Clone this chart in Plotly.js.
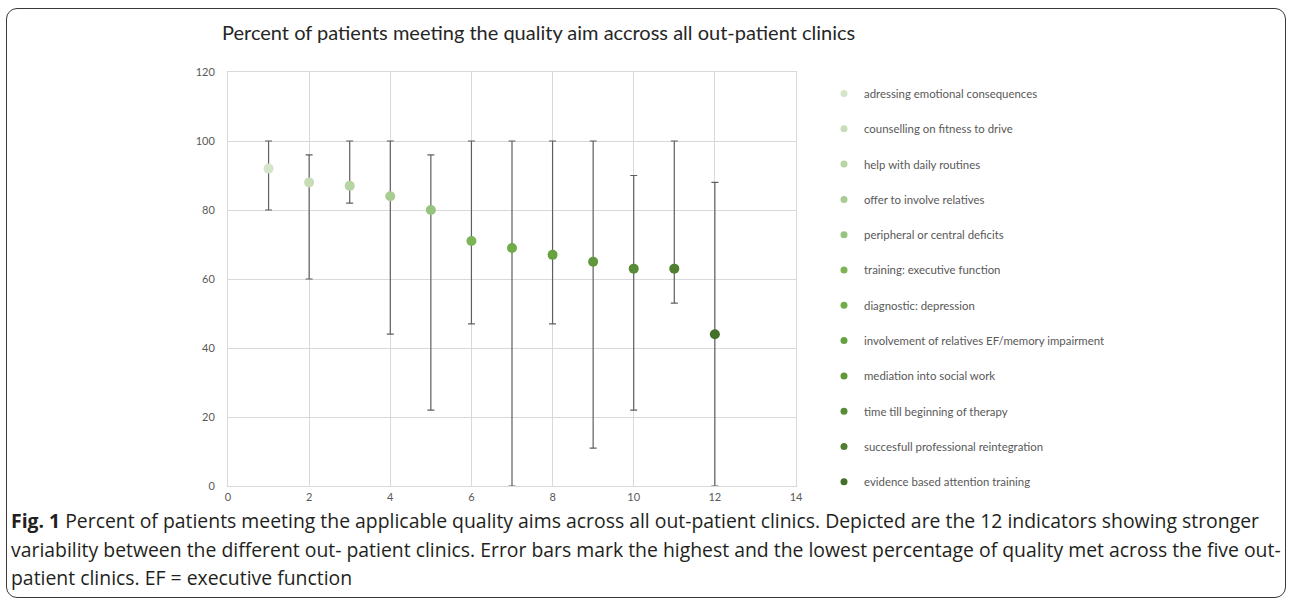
<!DOCTYPE html>
<html>
<head>
<meta charset="utf-8">
<script src="https://cdn.plot.ly/plotly-3.0.1.min.js"></script>
<style>
  html, body { margin: 0; padding: 0; background: #fff; }
  #wrap { position: relative; width: 1292px; height: 605px; }
  #chart { width: 1292px; height: 605px; }
  #frame { position: absolute; left: 6px; top: 8px; width: 1278px; height: 588px;
           border: 1.3px solid #3a3a3a; border-radius: 11px; pointer-events: none; }
</style>
</head>
<body>
<div id="wrap">
  <div id="chart"></div>
  <div id="frame"></div>
</div>
<script>
const indicators = [
  "adressing emotional consequences",
  "counselling on fitness to drive",
  "help with daily routines",
  "offer to involve relatives",
  "peripheral or central deficits",
  "training: executive function",
  "diagnostic: depression",
  "involvement of relatives EF/memory impairment",
  "mediation into social work",
  "time till beginning of therapy",
  "succesfull professional reintegration",
  "evidence based attention training"
];
const xPos = [1, 2, 3, 4, 5, 6, 7, 8, 9, 10, 11, 12];
const meanValues = [92, 88, 87, 84, 80, 71, 69, 67, 65, 63, 63, 44];
const highValues = [100, 96, 100, 100, 96, 100, 100, 100, 100, 90, 100, 88];
const lowValues  = [80, 60, 82, 44, 22, 47, 0, 47, 11, 22, 53, 0];
const colors = ["#d4e5c9", "#c6ddb8", "#b7d4a5", "#a8cc92", "#97c37f", "#7bb356",
                "#70ac47", "#67a240", "#5f973a", "#578b35", "#4f7f30", "#43702a"];

const titleText = "Percent of patients meeting the quality aim accross all out-patient clinics";
const captionLines = [
  "<b>Fig. 1</b> Percent of patients meeting the applicable quality aims across all out-patient clinics. Depicted are the 12 indicators showing stronger",
  "variability between the different out- patient clinics. Error bars mark the highest and the lowest percentage of quality met across the five out-",
  "patient clinics. EF = executive function"
];

const traces = [];
indicators.forEach((name, i) => {
  traces.push({
    type: "scatter", mode: "markers", name: name,
    x: [xPos[i]], y: [meanValues[i]],
    marker: { color: colors[i], size: 10 },
    error_y: { type: "data", symmetric: false,
               array: [highValues[i] - meanValues[i]],
               arrayminus: [meanValues[i] - lowValues[i]],
               color: "#5f5f5f", thickness: 1.2, width: 3.5 },
    showlegend: false, hoverinfo: "skip"
  });
});
indicators.forEach((name, i) => {
  traces.push({
    type: "scatter", mode: "markers", name: name,
    x: [null], y: [null],
    marker: { color: colors[i], size: 7 },
    legendgroup: "g" + i, showlegend: true
  });
});

const captionY = [520, 549, 577];
const annotations = captionLines.map((t, i) => ({
  text: t, xref: "paper", yref: "paper",
  x: -218 / 568, xanchor: "left", y: (486 - captionY[i]) / 414, yanchor: "middle",
  showarrow: false, align: "left", borderpad: 0,
  font: { family: "'Open Sans', Lato, sans-serif", size: 19.4, color: "#231f20" }
}));

const layout = {
  width: 1292, height: 605,
  margin: { l: 228, r: 496, t: 72, b: 119 },
  paper_bgcolor: "#fff", plot_bgcolor: "#fff",
  font: { family: "Lato, 'Open Sans', sans-serif", color: "#595959", size: 11 },
  title: { text: titleText, x: 222 / 1292, xanchor: "left", y: 1 - 33 / 605, yanchor: "middle",
           font: { family: "Lato, 'Open Sans', sans-serif", size: 20, color: "#262626" } },
  xaxis: { range: [0, 14], dtick: 2, tick0: 0, showgrid: true, gridcolor: "#d9d9d9", gridwidth: 1,
           zeroline: false, showline: true, linecolor: "#d9d9d9", mirror: true,
           ticks: "", ticklabelstandoff: 1, tickfont: { size: 11, color: "#595959" } },
  yaxis: { range: [0, 120], dtick: 20, tick0: 0, showgrid: true, gridcolor: "#d9d9d9", gridwidth: 1,
           zeroline: false, showline: true, linecolor: "#d9d9d9", mirror: true,
           ticks: "", ticklabelstandoff: 10, tickfont: { size: 11, color: "#595959" } },
  legend: { x: (824 - 228) / 568, xanchor: "left", y: 1 - (79 - 72) / 414, yanchor: "top",
            font: { size: 11.4, color: "#595959" }, tracegroupgap: 16.3, itemwidth: 30,
            bgcolor: "rgba(0,0,0,0)" },
  annotations: annotations
};

Plotly.newPlot("chart", traces, layout, { displayModeBar: false, staticPlot: true });
</script>
</body>
</html>
